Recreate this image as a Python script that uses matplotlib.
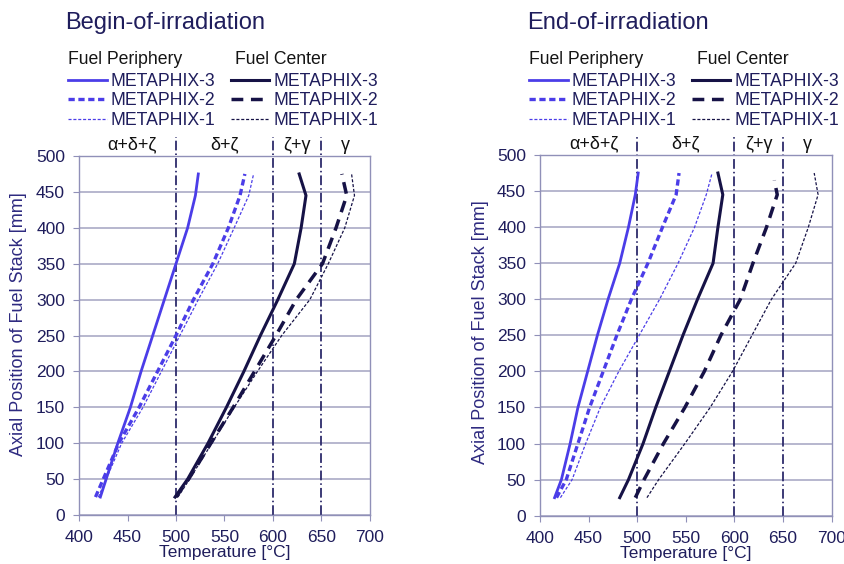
import matplotlib
matplotlib.use("Agg")
import matplotlib.pyplot as plt

plt.rcParams['font.family'] = ['Liberation Sans', 'DejaVu Sans']
plt.rcParams['lines.scale_dashes'] = False

# axial positions along the fuel stack [mm]
axial = [25, 50, 100, 150, 200, 250, 300, 350, 400, 445, 475]
axial_eoi_c2 = [25, 50, 100, 150, 200, 250, 300, 350, 400, 445, 465]

# begin-of-irradiation temperatures [degC]
boi_per_m3 = [422, 428, 440, 453, 464, 476, 488, 500, 512, 520, 523]
boi_per_m2 = [417, 425, 441, 462, 481, 500, 518, 538, 554, 566, 571]
boi_per_m1 = [420, 428, 444, 466, 485, 504, 523, 543, 560, 575, 580]
boi_cen_m3 = [499, 512, 533, 552, 570, 587, 605, 622, 629, 634, 627]
boi_cen_m2 = [500, 513, 536, 559, 581, 603, 624, 651, 665, 676, 671]
boi_cen_m1 = [502, 514, 537, 560, 584, 609, 638, 657, 674, 684, 681]

# end-of-irradiation temperatures [degC]
eoi_per_m3 = [415, 422, 431, 439, 449, 459, 470, 482, 491, 498, 501]
eoi_per_m2 = [417, 427, 439, 451, 465, 479, 494, 511, 526, 540, 543]
eoi_per_m1 = [421, 433, 447, 462, 481, 502, 523, 542, 559, 571, 577]
eoi_cen_m3 = [482, 491, 506, 519, 533, 547, 562, 578, 583, 588, 583]
eoi_cen_m2 = [498, 507, 527, 549, 569, 586, 606, 619, 633, 644, 641]
eoi_cen_m1 = [510, 522, 549, 575, 598, 618, 638, 663, 676, 686, 682]

# phase boundaries and phase names
boundaries = [500, 600, 650]
phase_x = [455, 550, 625, 675]
phase_names = ["α+δ+ζ", "δ+ζ", "ζ+γ", "γ"]

series_names = ["METAPHIX-3", "METAPHIX-2", "METAPHIX-1"]

PER = "#4b3de8"
CEN = "#161246"
NAVY = "#1f1d5c"
GRID = "#aaaac6"

per_styles = [dict(lw=2.0), dict(lw=2.4, dashes=(4.5, 2.6)), dict(lw=0.9, dashes=(2.2, 1.3))]
cen_styles = [dict(lw=2.2), dict(lw=2.5, dashes=(8.5, 5.5)), dict(lw=0.9, dashes=(2.2, 1.3))]

fig = plt.figure(figsize=(8.45, 5.64), dpi=100)

panels = [
    dict(rect=[79/845, 1-515/564, 291/845, 359/564], title="Begin-of-irradiation", tx=65,
         per=[boi_per_m3, boi_per_m2, boi_per_m1], cen=[boi_cen_m3, boi_cen_m2, boi_cen_m1],
         cen_y=[axial, axial, axial], ylab=(-0.178, 0.532), leg_x=68, hc=235),
    dict(rect=[540/845, 1-515.7/564, 291.7/845, 360.7/564], title="End-of-irradiation", tx=527,
         per=[eoi_per_m3, eoi_per_m2, eoi_per_m1], cen=[eoi_cen_m3, eoi_cen_m2, eoi_cen_m1],
         cen_y=[axial, axial_eoi_c2, axial], ylab=(-0.175, 0.509), leg_x=529, hc=697),
]

for p in panels:
    ax = fig.add_axes(p["rect"])
    ax.set_xlim(400, 700)
    ax.set_ylim(0, 500)
    ax.set_xticks(range(400, 701, 50))
    ax.set_yticks(range(0, 501, 50))
    ax.yaxis.grid(True, color=GRID, lw=1.2)
    ax.set_axisbelow(True)
    for s in ax.spines.values():
        s.set_color("#9090b8")
        s.set_linewidth(1.0)
    ax.tick_params(direction="out", length=4, color="#9090b8", labelcolor=NAVY,
                   labelsize=12.5)
    ax.tick_params(axis="y", pad=6)
    ax.tick_params(axis="x", pad=7)

    for b in boundaries:
        ax.axvline(b, ymin=0, ymax=1.054, color="#2d2b6b", lw=1.3,
                   dashes=(7, 2.2, 1.1, 2.2), clip_on=False, zorder=2)
    for x, name in zip(phase_x, phase_names):
        ax.text(x, 515, name, ha="center", va="center", fontsize=13, color="#111111")

    handles = []
    for vals, st, nm in zip(p["per"], per_styles, series_names):
        ln, = ax.plot(vals, axial, color=PER, label=nm, zorder=3, **st)
        handles.append(ln)
    for vals, yy, st, nm in zip(p["cen"], p["cen_y"], cen_styles, series_names):
        ln, = ax.plot(vals, yy, color=CEN, label=nm, zorder=3, **st)
        handles.append(ln)

    ax.set_ylabel("Axial Position of Fuel Stack [mm]", fontsize=13, color="#2e2a80")
    ax.yaxis.set_label_coords(*p["ylab"])
    # the source crops this label at the bottom edge; keep it just inside the figure
    ax.set_xlabel("Temperature [°C]", fontsize=12.5, color=NAVY)
    ax.xaxis.set_label_coords(0.5, -0.083)

    fig.text(p["tx"]/845, 1-29/564, p["title"], fontsize=17, color=NAVY, va="baseline")
    fig.text(p["leg_x"]/845, 1-64/564, "Fuel Periphery", fontsize=12.7, color="#151515", va="baseline")
    fig.text(p["hc"]/845, 1-64/564, "Fuel Center", fontsize=12.7, color="#151515", va="baseline")

    ax.legend(handles=handles, ncol=2, loc="upper left",
              bbox_to_anchor=(p["leg_x"]/845, 1-73/564), bbox_transform=fig.transFigure,
              frameon=False, fontsize=12.7, labelcolor=NAVY, borderpad=0, borderaxespad=0,
              handlelength=2.2, handletextpad=0.23, columnspacing=0.85, labelspacing=0.14)

fig.savefig("out.png", dpi=100)
